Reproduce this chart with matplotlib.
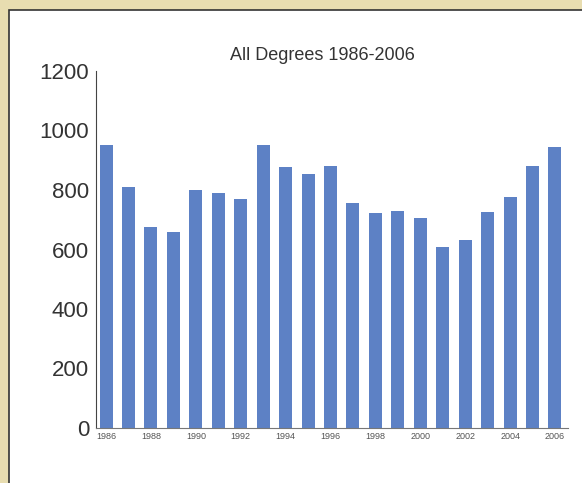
import matplotlib
matplotlib.use("Agg")
from matplotlib import pyplot as plt
from matplotlib.patches import Rectangle

# data
years = list(range(1986, 2007))
degrees = [950, 810, 676, 659, 800, 790, 770, 950, 878, 855, 882,
           757, 723, 730, 706, 608, 632, 726, 777, 882, 943]
tick_years = [y for y in years if y % 2 == 0]

plt.rcParams['font.family'] = ['Liberation Sans', 'DejaVu Sans']

fig = plt.figure(figsize=(5.82, 4.83), dpi=100)
fig.patch.set_facecolor("#e8ddb0")

# white panel with dark edge inside the beige frame
panel = Rectangle((8.5 / 582, -0.01), 1.01, 1.01 - 9.5 / 483, transform=fig.transFigure,
                  facecolor="white", edgecolor="#333333", linewidth=1.2, zorder=-1)
fig.patches.append(panel)

ax = fig.add_axes([96 / 582, 55 / 483, 472 / 582, 357 / 483])
ax.set_zorder(1)
ax.set_facecolor("none")

x = list(range(len(years)))
ax.bar(x, degrees, width=0.58, color="#5d81c5")

ax.set_xlim(-0.45, len(years) - 1 + 0.58)
ax.set_ylim(0, 1200)
ax.set_yticks([0, 200, 400, 600, 800, 1000, 1200])
ax.tick_params(axis='y', length=0, labelsize=16, labelcolor="#333333", pad=5)

ax.set_xticks([years.index(y) for y in tick_years])
ax.set_xticklabels([str(y) for y in tick_years])
ax.tick_params(axis='x', length=0, labelsize=6.5, labelcolor="#555555", pad=3)

for s in ["top", "right"]:
    ax.spines[s].set_visible(False)
ax.spines["left"].set_color("#444444")
ax.spines["bottom"].set_color("#777777")

fig.text(322 / 582, 1 - 55 / 483, "All Degrees 1986-2006", ha="center", va="center",
         fontsize=13, color="#333333", zorder=2)

fig.savefig("out.png", dpi=100, facecolor=fig.get_facecolor())
